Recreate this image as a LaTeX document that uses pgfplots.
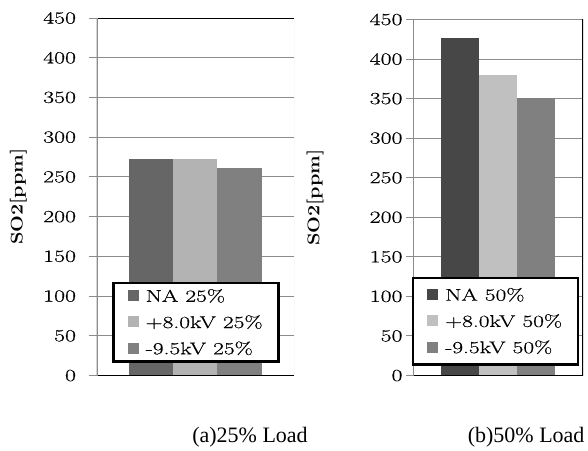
\documentclass[border=0pt]{standalone}
\usepackage{fontspec}
\newfontfamily\capfont{Liberation Serif}
\newfontfamily\lmw{Latin Modern Roman}[FakeBold=0.5]
\usepackage{graphicx}
\usepackage{pgfplots}
\pgfplotsset{compat=1.18}

\definecolor{gridgray}{HTML}{8C8C8C}
\definecolor{axgray}{HTML}{8C8C8C}
\definecolor{naA}{HTML}{666666}
\definecolor{posA}{HTML}{B3B3B3}
\definecolor{negA}{HTML}{808080}
\definecolor{naB}{HTML}{474747}
\definecolor{posB}{HTML}{C0C0C0}
\definecolor{negB}{HTML}{808080}

% wide-set legend entries
\newcommand{\lentry}[1]{\hspace{5pt}\makebox[117pt][l]{\scalebox{1.38}[1]{#1}}}

\pgfplotsset{
  so2/.style={
    scale only axis,
    anchor=south west,
    ymin=0, ymax=450,
    ytick={0,50,...,450},
    xtick=\empty,
    ytick pos=left,
    tick align=outside,
    major tick length=7pt,
    every tick/.style={draw=axgray, line width=1pt},
    ymajorgrids,
    major grid style={draw=gridgray, line width=1pt},
    axis line style={draw=none},
    /pgf/number format/assume math mode=true,
    yticklabel={\scalebox{1.4}[1]{\pgfmathprintnumber{\tick}}},
    yticklabel style={font=\lmw\fontsize{17}{17}\selectfont},
    ylabel={\scalebox{1.17}[1]{SO2[ppm]}},
    ylabel style={font=\bfseries\fontsize{17}{17}\selectfont,
                  at={(rel axis cs:0,0.5)}, anchor=center},
    ybar, bar shift=0pt, bar width=1,
    every axis plot/.append style={draw=none},
    legend style={font=\lmw\fontsize{17}{17}\selectfont, draw=black,
                  line width=2.5pt, fill=white, anchor=south west,
                  cells={anchor=west}, row sep=8pt,
                  inner xsep=14pt, inner ysep=4pt},
    legend image code/.code={\fill[##1, draw=none] (0pt,-5pt) rectangle (11pt,6pt);},
  }
}

\begin{document}
\begin{tikzpicture}
\path[use as bounding box] (0,0) rectangle (588pt,450pt);

% (a) 25% load
\begin{axis}[so2,
  at={(96.5pt,74.5pt)}, width=197.5pt, height=357.5pt,
  xmin=-2.22, xmax=2.22,
  yticklabel style={xshift=-10pt},
  ylabel style={yshift=78pt},
  legend style={at={(0.081,0.035)}},
]
\addplot[fill=naA]  coordinates {(-1,273)};
\addplot[fill=posA] coordinates {(0,272)};
\addplot[fill=negA] coordinates {(1,261)};
\legend{\lentry{NA 25\%}, \lentry{+8.0kV 25\%}, \lentry{-9.5kV 25\%}}
\draw[black, line width=2pt] (rel axis cs:0,1) -- (rel axis cs:1,1);
\draw[black, line width=2pt] (rel axis cs:0,0) -- (rel axis cs:1,0);
\draw[axgray, line width=2pt] (rel axis cs:0,0) -- (rel axis cs:0,1);
\draw[gray!40, line width=1pt] (rel axis cs:1,0) -- (rel axis cs:1,1);
\end{axis}

% (b) 50% load
\begin{axis}[so2,
  at={(413pt,74.5pt)}, width=170pt, height=356pt,
  xmin=-2.237, xmax=2.237,
  yticklabel style={xshift=0pt},
  ylabel style={yshift=98pt},
  legend style={at={(-0.006,0.027)}, inner ysep=8pt},
]
\addplot[fill=naB]  coordinates {(-1,426)};
\addplot[fill=posB] coordinates {(0,380)};
\addplot[fill=negB] coordinates {(1,351)};
\legend{\lentry{NA 50\%}, \lentry{+8.0kV 50\%}, \lentry{-9.5kV 50\%}}
\draw[axgray, line width=2pt] (rel axis cs:0,1) -- (rel axis cs:1,1);
\draw[black, line width=2pt] (rel axis cs:0,0) -- (rel axis cs:1,0);
\draw[axgray, line width=2pt] (rel axis cs:0,0) -- (rel axis cs:0,1);
\draw[black, line width=2pt] (rel axis cs:1,0) -- (rel axis cs:1,1);
\end{axis}

\node[font=\capfont\fontsize{22}{22}\selectfont] at (250pt,13pt) {(a)25\% Load};
\node[font=\capfont\fontsize{22}{22}\selectfont, anchor=east] at (588pt,13pt) {(b)50\% Load};
\end{tikzpicture}
\end{document}
